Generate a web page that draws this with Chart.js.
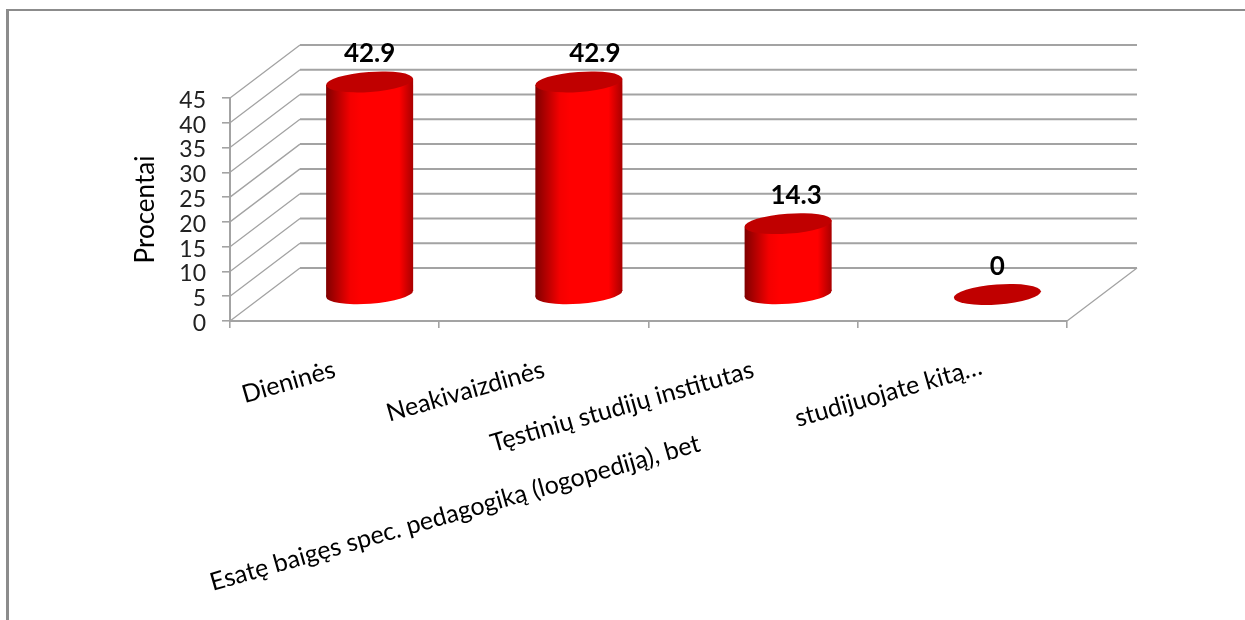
<!DOCTYPE html>
<html>
<head>
<meta charset="utf-8">
<style>
  html, body { margin: 0; padding: 0; background: #fff; overflow: hidden; }
  #wrap { position: relative; width: 1245px; height: 620px; }
  #frame { position: absolute; left: 6px; top: 9px; right: 0; bottom: 0; border-left: 3px solid #8c8c8c; border-top: 2px solid #8c8c8c; }
</style>
<script src="https://cdn.jsdelivr.net/npm/chart.js@4"></script>
</head>
<body>
<div id="wrap">
  <div id="frame"></div>
  <canvas id="chart" width="1245" height="620" style="position:absolute;left:0;top:0"></canvas>
</div>
<script>
const categories = ['Dieninės', 'Neakivaizdinės', 'Tęstinių studijų institutas', 'Esatę baigęs spec. pedagogiką (logopediją), bet studijuojate kitą…'];
const values = [42.9, 42.9, 14.3, 0];
const valueLabels = ['42.9', '42.9', '14.3', '0'];
const axisTitle = 'Procentai';

const FONT = 'Lato, "Open Sans", sans-serif';
const GRID = '#a3a3a3';
// how far the back wall sits from the front of the floor
const DEPTH_X = 70;
const DEPTH_Y = -53;
// tilt of the cylinder ends
const TILT = -4.2 * Math.PI / 180;
const labelNudge = [0, 16, 8, 0];

function cylinderGradient(ctx, left, right) {
  const g = ctx.createLinearGradient(left, 0, right, 0);
  g.addColorStop(0, '#800000');
  g.addColorStop(0.28, '#f40000');
  g.addColorStop(0.4, '#ff0000');
  g.addColorStop(0.84, '#ff0000');
  g.addColorStop(1, '#a80000');
  return g;
}

// bars are drawn as cylinders standing in the middle of the floor depth
Chart.BarElement.prototype.draw = function (ctx) {
  const { x, y, base, width } = this.getProps(['x', 'y', 'base', 'width']);
  const cx = x + DEPTH_X / 2;
  const top = y + DEPTH_Y / 2;
  const bottom = base + DEPTH_Y / 2;
  const left = cx - width / 2;
  const right = cx + width / 2;
  const a = width / 2 + 0.1;
  const b = width * 0.115;
  const lift = width * 0.035;

  ctx.save();
  if (bottom - top > 0.5) {
    ctx.fillStyle = cylinderGradient(ctx, left, right);
    ctx.beginPath();
    ctx.ellipse(cx, bottom, a, b, TILT, 0, Math.PI * 2);
    ctx.fill();
    ctx.beginPath();
    ctx.moveTo(left, top + lift);
    ctx.lineTo(right, top - lift);
    ctx.lineTo(right, bottom - lift);
    ctx.lineTo(left, bottom + lift);
    ctx.closePath();
    ctx.fill();
  }
  ctx.fillStyle = '#c00000';
  ctx.beginPath();
  ctx.ellipse(cx, top, a, b, TILT, 0, Math.PI * 2);
  ctx.fill();
  ctx.restore();
};

const wallsPlugin = {
  id: 'walls',
  beforeDatasetsDraw(chart) {
    const { ctx, scales: { y }, chartArea: area } = chart;
    ctx.save();
    ctx.strokeStyle = GRID;
    ctx.lineWidth = 1.3;
    ctx.beginPath();
    y.ticks.forEach(t => {
      const py = y.getPixelForValue(t.value);
      ctx.moveTo(area.left, py);
      ctx.lineTo(area.left + DEPTH_X, py + DEPTH_Y);
    });
    const floor = y.getPixelForValue(0);
    ctx.moveTo(area.right, floor);
    ctx.lineTo(area.right + DEPTH_X, floor + DEPTH_Y);
    ctx.stroke();
    ctx.lineWidth = 2;
    ctx.beginPath();
    y.ticks.forEach(t => {
      const py = y.getPixelForValue(t.value);
      ctx.moveTo(area.left + DEPTH_X, py + DEPTH_Y);
      ctx.lineTo(area.right + DEPTH_X, py + DEPTH_Y);
    });
    ctx.stroke();
    ctx.restore();
  }
};

const labelsPlugin = {
  id: 'labels',
  afterDraw(chart) {
    const { ctx, scales: { x } } = chart;
    const bars = chart.getDatasetMeta(0).data;

    ctx.save();
    ctx.fillStyle = '#000';
    ctx.font = 'bold 26px ' + FONT;
    ctx.textAlign = 'center';
    ctx.textBaseline = 'middle';
    bars.forEach((bar, i) => {
      ctx.fillText(valueLabels[i], bar.x + DEPTH_X / 2 + labelNudge[i], bar.y + DEPTH_Y / 2 - 28);
    });
    ctx.restore();

    // slanted category names, the last one is broken in two at the comma
    ctx.save();
    ctx.fillStyle = '#000';
    ctx.font = '25px ' + FONT;
    ctx.textAlign = 'right';
    ctx.textBaseline = 'middle';
    const slanted = (text, px, py) => {
      ctx.save();
      ctx.translate(px, py);
      ctx.rotate(-16 * Math.PI / 180);
      ctx.fillText(text, 0, 0);
      ctx.restore();
    };
    const axisY = x.top;
    categories.forEach((name, i) => {
      const px = x.getPixelForValue(i);
      if (i < 3) {
        slanted(name, px, axisY + 48);
      } else {
        const cut = name.indexOf('bet ') + 3;
        slanted(name.slice(cut + 1), px + 19, axisY + 45);
        slanted(name.slice(0, cut), px - 263, axisY + 122);
      }
    });
    ctx.restore();
  }
};

new Chart(document.getElementById('chart'), {
  type: 'bar',
  data: {
    labels: categories,
    datasets: [{
      data: values,
      backgroundColor: '#ff0000',
      categoryPercentage: 1,
      barPercentage: 0.416,
      clip: false
    }]
  },
  options: {
    responsive: false,
    animation: false,
    layout: { padding: { left: 130, right: 178, top: 98, bottom: 0 } },
    plugins: { legend: { display: false }, tooltip: { enabled: false } },
    scales: {
      x: {
        ticks: { display: false },
        grid: { drawOnChartArea: false, color: GRID, lineWidth: 1.6, tickLength: 7 },
        border: { color: GRID, width: 2 },
        afterFit(scale) { scale.height = 299; }
      },
      y: {
        min: 0,
        max: 45,
        ticks: { stepSize: 5, autoSkip: false, color: '#222', font: { family: FONT, size: 23 }, padding: 16, labelOffset: 2.5 },
        grid: { drawOnChartArea: false, color: GRID, lineWidth: 1.6, tickLength: 8 },
        border: { color: GRID, width: 2 },
        title: { display: true, text: axisTitle, color: '#000', font: { family: FONT, size: 26 }, padding: 0 },
        afterFit(scale) { scale.width = 100; }
      }
    }
  },
  plugins: [wallsPlugin, labelsPlugin]
});
</script>
</body>
</html>
